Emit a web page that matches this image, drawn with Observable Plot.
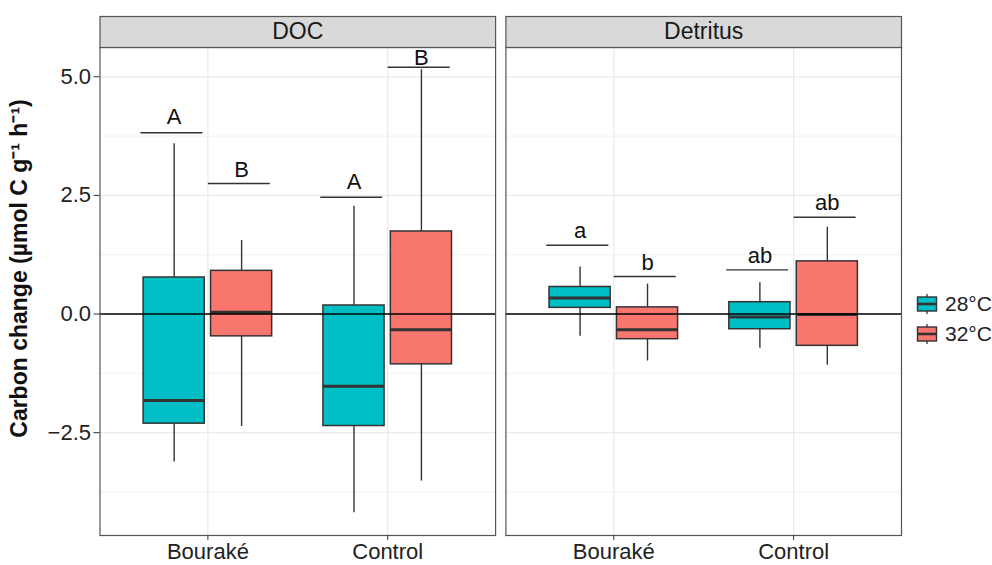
<!DOCTYPE html>
<html><head><meta charset="utf-8">
<script src="https://cdn.jsdelivr.net/npm/d3@7"></script>
<script src="https://cdn.jsdelivr.net/npm/@observablehq/plot@0.6"></script>
<style>
body{margin:0;background:#fff;font-family:"Liberation Sans",Arial,sans-serif;}
#wrap{position:relative;width:992px;height:565px;}
.lg{position:absolute;display:flex;align-items:center;font-size:21px;color:#222;}
.lg svg{margin-right:7px;}
</style></head><body>
<div id="wrap"><div id="chart"></div></div>
<script>
// ---- data ----
const facets = ["DOC", "Detritus"];
const sites = ["Bouraké", "Control"];
const temps = ["28°C", "32°C"];
const tempColors = ["#00BFC4", "#F8766D"];
// order: DOC-Bouraké-28, DOC-Bouraké-32, DOC-Control-28, DOC-Control-32, Detritus-Bouraké-28, ...
const whiskerLow  = [-3.12, -2.37, -4.19, -3.52, -0.47, -0.99, -0.72, -1.08];
const q1          = [-2.31, -0.47, -2.36, -1.06,  0.13, -0.53, -0.32, -0.67];
const median      = [-1.82,  0.04, -1.52, -0.33,  0.34, -0.33, -0.06, -0.01];
const q3          = [ 0.77,  0.91,  0.18,  1.74,  0.57,  0.14,  0.25,  1.11];
const whiskerHigh = [ 3.59,  1.55,  2.27,  5.15,  0.99,  0.63,  0.66,  1.83];
const letters     = ["A", "B", "A", "B", "a", "b", "ab", "ab"];
const letterLineY = [ 3.82,  2.75,  2.46,  5.20,  1.45,  0.79,  0.93,  2.04];
const letterTextY = [ 4.00,  2.89,  2.64,  5.24,  1.61,  0.92,  1.08,  2.20];
const yTicks = [-2.5, 0, 2.5, 5];
const yMinor = [-3.75, -1.25, 1.25, 3.75];
const yTitle = "Carbon change (µmol C g⁻¹ h⁻¹)";

// ---- table ----
const dodge = 0.375, half = 0.17;
const rows = facets.flatMap((f, fi) => sites.flatMap((s, si) => temps.map((t, ti) => {
  const i = fi * 4 + si * 2 + ti;
  return {facet: f, site: s, temp: t, pos: si + 1 + (ti - 0.5) * dodge,
    lo: whiskerLow[i], q1: q1[i], med: median[i], q3: q3[i], hi: whiskerHigh[i],
    letter: letters[i], ly: letterLineY[i], ty: letterTextY[i]};
})));
const sitePos = sites.map((s, i) => i + 1);

const W = 992, H = 565, mL = 99.5, mR = 91, mT = 47, mB = 30;
const dark = "#333333";

const chart = Plot.plot({
  width: W, height: H,
  marginLeft: mL, marginRight: mR, marginTop: mT, marginBottom: mB,
  style: {fontFamily: '"Liberation Sans", Arial, sans-serif', background: "white", overflow: "visible"},
  fx: {domain: facets, paddingInner: 0.0254, paddingOuter: 0, round: false, axis: null, label: null},
  x: {domain: [0.4, 2.6], axis: null},
  y: {domain: [-4.667, 5.617], axis: null},
  color: {domain: temps, range: tempColors},
  marks: [
    Plot.ruleY(yMinor, {stroke: "#EBEBEB", strokeWidth: 0.7}),
    Plot.ruleY(yTicks, {stroke: "#EBEBEB", strokeWidth: 1.3}),
    Plot.ruleX(sitePos, {stroke: "#EBEBEB", strokeWidth: 1.3}),
    Plot.ruleX(rows, {fx: "facet", x: "pos", y1: "lo", y2: "q1", stroke: dark, strokeWidth: 1.4}),
    Plot.ruleX(rows, {fx: "facet", x: "pos", y1: "q3", y2: "hi", stroke: dark, strokeWidth: 1.4}),
    Plot.rect(rows, {fx: "facet", x1: d => d.pos - half, x2: d => d.pos + half, y1: "q1", y2: "q3",
      fill: "temp", stroke: dark, strokeWidth: 1.5}),
    Plot.ruleY(rows, {fx: "facet", y: "med", x1: d => d.pos - half, x2: d => d.pos + half, stroke: dark, strokeWidth: 3}),
    Plot.ruleY([0], {stroke: "black", strokeWidth: 1.5}),
    Plot.ruleY(rows, {fx: "facet", y: "ly", x1: d => d.pos - 0.185, x2: d => d.pos + 0.16, stroke: dark, strokeWidth: 1.4}),
    Plot.text(rows, {fx: "facet", x: "pos", y: "ty", text: "letter", lineAnchor: "middle", dy: -7, fontSize: 22, fill: "#111"}),
    Plot.frame({stroke: "#555", strokeWidth: 1.2}),
    Plot.frame({fill: "#D9D9D9", stroke: "#555", strokeWidth: 1.2, insetTop: -31, insetBottom: H - mT - mB}),
    Plot.text(facets, {fx: d => d, text: d => d, frameAnchor: "top", lineAnchor: "middle", dy: -15.5, fontSize: 23, fill: "#1A1A1A"}),
    Plot.axisY({ticks: yTicks, tickFormat: d3.format(".1f"), tickSize: 6, tickPadding: 3, fontSize: 22,
      label: null, stroke: dark, fill: "#222", facetAnchor: "left"}),
    Plot.axisX({ticks: sitePos, tickFormat: d => sites[d - 1], tickSize: 5, tickPadding: 3, fontSize: 22,
      label: null, stroke: dark, fill: "#222"}),
    Plot.text([yTitle], {fx: () => facets[0], text: d => d, frameAnchor: "left", textAnchor: "middle",
      lineAnchor: "middle", rotate: -90, dx: -80, dy: -23, fontSize: 23, fontWeight: "bold", fill: "#111"})
  ]
});
document.getElementById("chart").appendChild(chart);

// ---- legend (HTML, right side) ----
const wrap = document.getElementById("wrap");
temps.forEach((t, i) => {
  const div = document.createElement("div");
  div.className = "lg";
  div.style.left = "916px";
  div.style.top = (304 + i * 30 - 13) + "px";
  div.style.height = "26px";
  div.innerHTML = `<svg width="22" height="22" viewBox="0 0 22 22">
    <line x1="11" x2="11" y1="1" y2="21" stroke="${dark}" stroke-width="1.3"/>
    <rect x="1.5" y="4" width="19" height="14" fill="${tempColors[i]}" stroke="${dark}" stroke-width="1.4"/>
    <line x1="1.5" x2="20.5" y1="11" y2="11" stroke="${dark}" stroke-width="2.6"/>
  </svg><span>${t}</span>`;
  wrap.appendChild(div);
});
</script>
</body></html>
